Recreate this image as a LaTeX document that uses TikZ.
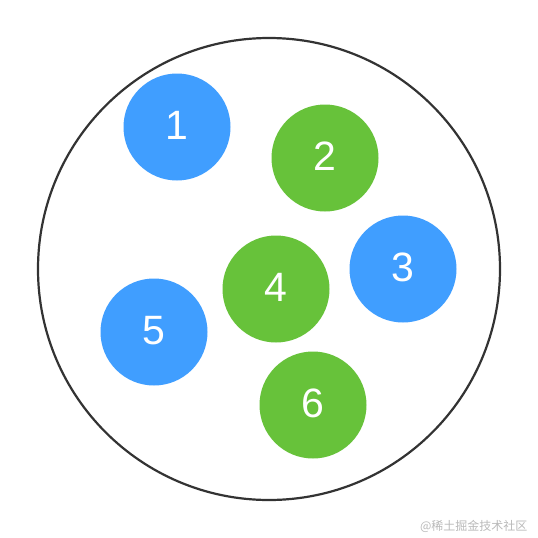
\documentclass[tikz,border=0pt]{standalone}
\usepackage{fontspec}
\setmainfont{Liberation Sans}
\newfontfamily\cjk{Noto Sans CJK SC}
\usetikzlibrary{positioning}
\definecolor{ballblue}{HTML}{409EFF}
\definecolor{ballgreen}{HTML}{67C23A}
\definecolor{rimgray}{HTML}{333333}

\begin{document}
\begin{tikzpicture}[
  x=1pt, y=-1pt,
  bag/.style={circle, draw=rimgray, line width=2.2pt, minimum size=462pt, inner sep=0pt, fill=white},
  blueball/.style={circle, minimum size=107pt, inner sep=0pt, fill=ballblue, text=white, font=\fontsize{41}{41}\selectfont, text height=27pt, text depth=2pt},
  greenball/.style={circle, minimum size=107pt, inner sep=0pt, fill=ballgreen, text=white, font=\fontsize{41}{41}\selectfont, text height=27pt, text depth=2pt}
]
% Canvas
\useasboundingbox (0,0) rectangle (538,538);
% Outer circle
\node[bag] (bag) at (269, 269) {};
% Balls
\node[blueball]  (b1) at (177, 127) {1};
\node[greenball] (b2) at (325, 158) {2};
\node[blueball]  (b3) at (403, 269) {3};
\node[greenball] (b4) at (276, 289) {4};
\node[blueball]  (b5) at (154, 332) {5};
\node[greenball] (b6) at (313, 405) {6};
% Watermark
\node[text=gray!55, font=\cjk\fontsize{12}{12}\selectfont, anchor=east] (wm) at (531, 526) {@稀土掘金技术社区};
\end{tikzpicture}
\end{document}
